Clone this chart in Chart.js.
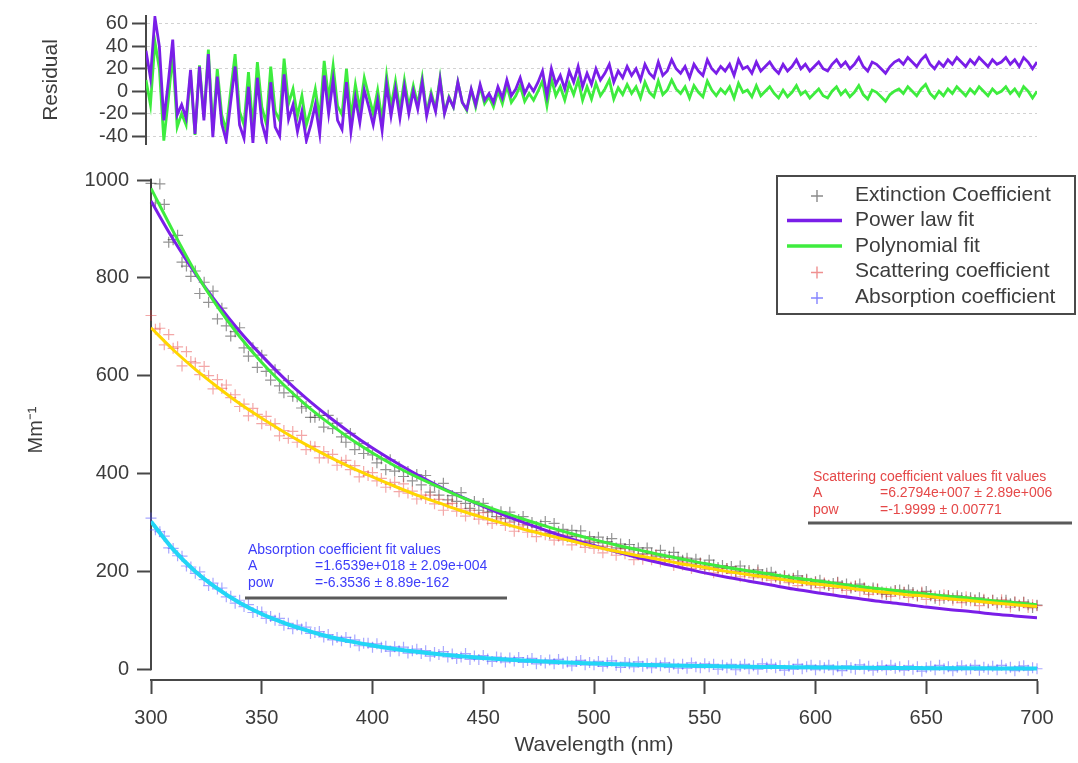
<!DOCTYPE html>
<html>
<head>
<meta charset="utf-8">
<script src="https://cdn.jsdelivr.net/npm/chart.js@4.4.1/dist/chart.umd.min.js"></script>
<style>
html,body{margin:0;padding:0;background:#ffffff;}
#resid{position:absolute;left:0;top:0;}
#main{position:absolute;left:0;top:160px;}
</style>
</head>
<body>
<canvas id="resid" width="1078" height="160"></canvas>
<canvas id="main" width="1078" height="603"></canvas>
<script>
// ---------------- DATA ----------------
const wavelengths = [300,302,304,306,308,310,312,314,316,318,320,322,324,326,328,330,332,334,336,338,
340,342,344,346,348,350,352,354,356,358,360,362,364,366,368,370,372,374,376,378,
380,382,384,386,388,390,392,394,396,398,400,402,404,406,408,410,412,414,416,418,
420,422,424,426,428,430,432,434,436,438,440,442,444,446,448,450,452,454,456,458,
460,462,464,466,468,470,472,474,476,478,480,482,484,486,488,490,492,494,496,498,
500,502,504,506,508,510,512,514,516,518,520,522,524,526,528,530,532,534,536,538,
540,542,544,546,548,550,552,554,556,558,560,562,564,566,568,570,572,574,576,578,
580,582,584,586,588,590,592,594,596,598,600,602,604,606,608,610,612,614,616,618,
620,622,624,626,628,630,632,634,636,638,640,642,644,646,648,650,652,654,656,658,
660,662,664,666,668,670,672,674,676,678,680,682,684,686,688,690,692,694,696,698,700];

const extinctionCoeff = [993,953,992,950,873,878,887,832,824,803,
814,768,791,750,773,716,738,702,681,690,
698,657,640,657,617,642,609,591,612,579,
565,590,558,557,534,537,515,515,519,495,
519,492,503,475,464,482,449,461,441,453,
438,422,430,408,428,405,414,394,404,385,
398,377,396,362,375,356,380,346,355,343,
361,339,329,343,325,339,321,323,312,322,
308,321,303,306,312,295,300,291,295,302,
277,298,281,286,271,284,271,283,262,271,
259,270,258,261,267,248,256,247,255,244,
248,236,248,237,231,243,229,231,239,229,
223,227,215,225,217,211,223,213,208,212,
206,210,199,211,201,202,194,203,193,196,
198,190,185,191,184,186,191,181,184,176,
179,182,174,171,175,178,171,174,166,169,
174,165,160,166,163,158,153,158,161,162,
157,162,157,151,156,159,150,145,150,145,
150,145,150,146,141,146,141,146,141,136,
141,136,137,141,134,137,130,137,132,126,
131];

const scatteringCoeff = [723,695,697,663,684,656,659,620,649,629,
626,602,619,600,573,592,574,581,555,561,
537,542,518,533,521,502,517,499,502,477,
488,472,486,464,478,449,456,455,432,445,
432,439,417,423,427,408,416,393,404,396,
402,385,390,372,378,382,363,379,360,364,
348,356,349,356,338,347,325,338,339,323,
328,313,325,317,307,320,305,298,305,309,
294,300,282,291,295,280,283,271,284,275,
279,264,272,264,274,254,264,260,249,262,
247,252,238,251,244,233,246,236,240,224,
234,225,235,224,234,219,223,224,212,220,
213,219,206,212,216,204,211,197,205,201,
206,196,201,189,194,198,187,198,187,191,
182,188,183,190,177,185,171,181,182,172,
178,167,177,172,165,177,166,161,168,171,
160,167,153,162,165,154,158,149,160,154,
158,147,154,149,158,143,152,149,141,152,
150,141,146,136,148,140,142,130,143,136,
141,132,142,136,127,138,132,137,126,132,
130];

const absorptionCoeff = [309,285,281,272,248,247,232,231,211,209,
196,199,183,171,176,164,166,148,149,135,
141,128,132,116,118,117,104,108,100,104,
90,94,83,90,82,86,73,75,77,66,
71,60,65,58,65,55,60,48,53,53,
45,52,45,47,37,46,38,45,33,38,
41,32,38,27,34,30,36,25,31,22,
25,32,20,27,20,28,21,16,25,23,
15,23,17,24,14,18,22,11,18,13,
19,11,20,12,15,7,16,18,9,14,
9,16,6,13,17,8,4,14,11,5,
15,6,11,3,12,7,13,4,10,2,
10,2,13,5,3,11,5,10,0,8,
3,10,-1,6,10,1,7,0,11,4,
10,3,7,-2,6,0,10,1,5,8,
-1,7,3,8,-1,5,-3,7,3,0,
9,1,6,-2,4,7,-1,8,2,5,
-2,7,0,5,-4,3,6,-1,8,1,
5,-3,4,7,-1,1,8,-2,4,0,
6,-1,8,1,4,-3,5,7,-2,3,
1];

const fitWavelengths = [300,310,320,330,340,350,360,370,380,390,400,410,420,430,440,450,460,470,480,490,
500,510,520,530,540,550,560,570,580,590,600,610,620,630,640,650,660,670,680,690,700];

const powerLawFit = [957,879,809,747,691,641,595,554,517,483,452,424,398,374,353,333,314,297,281,266,
253,240,228,217,207,197,188,180,172,164,157,150,144,138,133,127,122,118,113,109,105];

const polynomialFit = [983,895,812,741,680,627,581,540,504,471,442,416,393,372,352,335,319,304,290,277,
265,254,244,234,225,216,208,201,194,187,181,175,169,164,159,154,149,145,140,136,132];

const scatteringFit = [698,653,613,577,543,513,485,459,435,413,393,374,356,340,324,310,297,284,273,262,
251,241,232,224,215,208,200,193,187,180,174,169,163,158,153,149,144,140,136,132,128];

const absorptionFit = [302,245,200,165,136,113,95,80,67,57,48.5,41.5,35.6,30.7,26.5,23,20,17.4,15.2,13.4,
11.8,10.4,9.2,8.1,7.2,6.4,5.7,5.1,4.6,4.1,3.7,3.3,3.0,2.7,2.5,2.2,2.0,1.9,1.7,1.6,1.4];

const powerLawResidual = [36,12,66,40,-26,8,46,-21,-12,-24,
19,-38,22,-26,33,-41,13,-29,-44,-10,
22,-30,-42,4,-46,12,-28,-43,8,-32,
-40,15,-25,-12,-36,-18,-44,-30,-12,-38,
14,-20,10,-26,-34,8,-36,-6,-28,1,
-14,-30,-8,-35,6,-22,2,-24,4,-20,
0,-16,8,-22,-4,-18,10,-20,-6,-14,
8,-10,-16,2,-12,6,-8,-2,-10,4,
-6,10,-4,2,12,-2,6,0,8,18,
-4,20,6,14,2,18,8,22,4,16,
6,20,10,16,24,8,18,12,22,14,
20,10,24,16,12,26,14,18,28,20,
16,22,12,24,18,14,28,20,16,22,
18,24,14,28,20,22,16,26,18,22,
26,20,16,24,18,22,28,20,24,18,
22,26,20,18,24,28,22,26,20,24,
30,22,18,26,24,20,16,22,26,28,
24,30,26,22,28,32,24,20,26,22,
28,24,30,26,22,28,24,30,26,22,
28,24,26,30,24,28,22,30,26,20,
26];

const polynomialResidual = [10,-12,44,20,-44,-8,33,-32,-20,-30,
16,-39,23,-23,37,-35,20,-21,-35,0,
33,-18,-30,17,-33,26,-14,-29,22,-18,
-26,29,-11,2,-22,-4,-30,-16,2,-24,
27,-7,23,-13,-21,20,-24,6,-16,12,
-4,-20,1,-26,14,-14,9,-17,10,-14,
5,-12,12,-19,-1,-16,12,-19,-5,-14,
8,-10,-17,1,-14,4,-11,-5,-14,0,
-11,5,-10,-4,5,-9,-2,-8,0,9,
-13,11,-4,4,-8,7,-3,10,-8,4,
-7,7,-4,2,10,-7,3,-3,6,-2,
4,-6,8,-1,-5,9,-3,1,10,2,
-2,4,-6,5,-1,-5,9,1,-4,2,
-2,4,-6,7,-1,1,-5,5,-4,0,
4,-2,-6,1,-5,-1,5,-3,0,-6,
-2,2,-4,-6,0,4,-3,1,-5,-1,
5,-3,-7,1,-1,-5,-9,-3,0,2,
-2,4,0,-4,2,6,-2,-6,0,-4,
2,-2,4,0,-4,2,-2,4,0,-4,
2,-2,0,4,-2,2,-4,4,0,-6,
0];

const xTicks = [300,350,400,450,500,550,600,650,700];
const yTicks = [0,200,400,600,800,1000];
const residTicks = [-40,-20,0,20,40,60];

const legendLabels = ['Extinction Coefficient','Power law fit','Polynomial fit','Scattering coefficient','Absorption coefficient'];

const scatteringNote = ['Scattering coefficient values fit values', 'A', '=6.2794e+007 \u00b1 2.89e+006', 'pow', '=-1.9999 \u00b1 0.00771'];
const absorptionNote = ['Absorption coefficient fit values', 'A', '=1.6539e+018 \u00b1 2.09e+004', 'pow', '=-6.3536 \u00b1 8.89e-162'];

// ---------------- STYLE ----------------
const FONT = "'Liberation Sans', Arial, Helvetica, sans-serif";
const AXIS_COLOR = '#474747';
const TEXT_COLOR = '#3c3c3c';
const PURPLE = '#7a1ee8';
const GREEN = '#3eec3e';
Chart.defaults.font.family = FONT;
Chart.defaults.color = TEXT_COLOR;

function pts(xs, ys) { return xs.map((x, i) => ({ x: x, y: ys[i] })); }
const plainLabel = v => String(v);

// ---------------- RESIDUAL PANEL ----------------
new Chart(document.getElementById('resid'), {
  type: 'line',
  data: {
    datasets: [
      { label: 'Power law residual', data: pts(wavelengths, powerLawResidual),
        borderColor: PURPLE, borderWidth: 2.8, pointRadius: 0, tension: 0, order: 0 },
      { label: 'Polynomial residual', data: pts(wavelengths, polynomialResidual),
        borderColor: GREEN, borderWidth: 2.8, pointRadius: 0, tension: 0, order: 1 }
    ]
  },
  options: {
    responsive: false, animation: false, events: [],
    layout: { padding: { left: 0, right: 41, top: 15, bottom: 15 } },
    plugins: { legend: { display: false }, tooltip: { enabled: false } },
    scales: {
      x: { type: 'linear', min: 300, max: 700, display: false },
      y: {
        type: 'linear', min: -47, max: 67,
        afterBuildTicks: s => { s.ticks = residTicks.map(v => ({ value: v })); },
        afterFit: s => { s.width = 146; },
        ticks: { font: { size: 20 }, color: TEXT_COLOR, padding: 4, autoSkip: false, callback: plainLabel },
        grid: { color: '#d2d2d2', lineWidth: 1, drawTicks: true, tickLength: 14,
                tickColor: AXIS_COLOR, tickWidth: 2, tickBorderDash: [] },
        border: { display: true, color: AXIS_COLOR, width: 2, dash: [3, 3] },
        title: { display: true, text: 'Residual', font: { size: 21 }, color: TEXT_COLOR,
                 padding: { top: 39, bottom: 0 } }
      }
    }
  }
});

// ---------------- MAIN PANEL ----------------
const igorExtras = {
  id: 'igorExtras',
  beforeDatasetsDraw(chart) {
    const ctx = chart.ctx, ys = chart.scales.y, x = chart.chartArea.left;
    ctx.save();
    ctx.strokeStyle = AXIS_COLOR; ctx.lineWidth = 2;
    ctx.beginPath();
    ctx.moveTo(x, ys.getPixelForValue(yTicks[yTicks.length - 1]) - 1);
    ctx.lineTo(x, ys.getPixelForValue(yTicks[0]) + 1);
    ctx.stroke();
    ctx.restore();
  },
  afterDraw(chart) {
    const ctx = chart.ctx;
    ctx.save();
    // legend box
    ctx.fillStyle = '#ffffff';
    ctx.fillRect(777, 16, 298, 138);
    ctx.strokeStyle = '#4a4a4a'; ctx.lineWidth = 2;
    ctx.strokeRect(777, 16, 298, 138);
    ctx.font = '21px ' + FONT;
    ctx.textBaseline = 'middle'; ctx.textAlign = 'left';
    legendLabels.forEach((name, i) => {
      const ds = chart.data.datasets.find(d => d.label === name);
      const y = 35 + i * 25.5;
      if (ds.showLine === false) {
        ctx.strokeStyle = ds.legendColor; ctx.lineWidth = 1.4;
        ctx.beginPath();
        ctx.moveTo(811, y + 1); ctx.lineTo(823, y + 1);
        ctx.moveTo(817, y - 5); ctx.lineTo(817, y + 7);
        ctx.stroke();
      } else {
        ctx.strokeStyle = ds.borderColor; ctx.lineWidth = 3.5;
        ctx.beginPath(); ctx.moveTo(787, y); ctx.lineTo(842, y); ctx.stroke();
      }
      ctx.fillStyle = TEXT_COLOR;
      ctx.fillText(name, 855, y);
    });
    // fit value notes
    const drawNote = (lines, color, x0, x1, y0, ruleX0, ruleX1, ruleY) => {
      ctx.font = '14px ' + FONT; ctx.fillStyle = color; ctx.textBaseline = 'middle';
      ctx.fillText(lines[0], x0, y0);
      ctx.fillText(lines[1], x0, y0 + 16.5);
      ctx.fillText(lines[2], x1, y0 + 16.5);
      ctx.fillText(lines[3], x0, y0 + 33);
      ctx.fillText(lines[4], x1, y0 + 33);
      ctx.strokeStyle = '#5a5a5a'; ctx.lineWidth = 3;
      ctx.beginPath(); ctx.moveTo(ruleX0, ruleY); ctx.lineTo(ruleX1, ruleY); ctx.stroke();
    };
    drawNote(scatteringNote, '#e54848', 813, 880, 317, 808, 1072, 363);
    drawNote(absorptionNote, '#3d3dfa', 248, 315, 390, 245, 507, 438);
    ctx.restore();
  }
};

const crossStyle = (color, legendColor) => ({
  showLine: false, pointStyle: 'cross', pointRadius: 5.5, pointBorderWidth: 1.2,
  pointBorderColor: color, borderColor: color, backgroundColor: color, clip: false,
  legendColor: legendColor
});

new Chart(document.getElementById('main'), {
  type: 'line',
  data: {
    datasets: [
      { label: 'Absorption fit', data: pts(fitWavelengths, absorptionFit), borderColor: '#22d6f6',
        borderWidth: 4, pointRadius: 0, cubicInterpolationMode: 'monotone', order: 0 },
      { label: 'Scattering fit', data: pts(fitWavelengths, scatteringFit), borderColor: '#ffd600',
        borderWidth: 3, pointRadius: 0, cubicInterpolationMode: 'monotone', order: 1 },
      { label: 'Polynomial fit', data: pts(fitWavelengths, polynomialFit), borderColor: GREEN,
        borderWidth: 3, pointRadius: 0, cubicInterpolationMode: 'monotone', order: 2 },
      { label: 'Power law fit', data: pts(fitWavelengths, powerLawFit), borderColor: PURPLE,
        borderWidth: 3, pointRadius: 0, cubicInterpolationMode: 'monotone', order: 3 },
      Object.assign({ label: 'Absorption coefficient', data: pts(wavelengths, absorptionCoeff), order: 4 },
        crossStyle('rgba(80,80,255,0.5)', 'rgba(80,80,255,0.7)')),
      Object.assign({ label: 'Scattering coefficient', data: pts(wavelengths, scatteringCoeff), order: 5 },
        crossStyle('rgba(228,60,60,0.45)', 'rgba(228,70,70,0.6)')),
      Object.assign({ label: 'Extinction Coefficient', data: pts(wavelengths, extinctionCoeff), order: 6 },
        crossStyle('rgba(40,40,40,0.5)', 'rgba(60,60,60,0.6)'))
    ]
  },
  options: {
    responsive: false, animation: false, events: [],
    layout: { padding: { left: 0, right: 41, top: 19, bottom: 0 } },
    plugins: { legend: { display: false }, tooltip: { enabled: false } },
    scales: {
      x: {
        type: 'linear', min: 300, max: 700,
        afterBuildTicks: s => { s.ticks = xTicks.map(v => ({ value: v })); },
        afterFit: s => { s.height = 83; },
        ticks: { font: { size: 20 }, color: TEXT_COLOR, padding: 12, maxRotation: 0, autoSkip: false, callback: plainLabel },
        grid: { drawOnChartArea: false, drawTicks: true, tickLength: 14, tickColor: AXIS_COLOR, tickWidth: 2 },
        border: { display: true, color: AXIS_COLOR, width: 2 },
        title: { display: true, text: 'Wavelength (nm)', font: { size: 21 }, color: TEXT_COLOR,
                 padding: { top: 0, bottom: 5 } }
      },
      y: {
        type: 'linear', min: -22, max: 1000,
        afterBuildTicks: s => { s.ticks = yTicks.map(v => ({ value: v })); },
        afterFit: s => { s.width = 151; },
        ticks: { font: { size: 20 }, color: TEXT_COLOR, padding: 8, autoSkip: false, callback: plainLabel },
        grid: { drawOnChartArea: false, drawTicks: true, tickLength: 14, tickColor: AXIS_COLOR, tickWidth: 2 },
        border: { display: false },
        title: { display: true, text: 'Mm\u207B\u00B9', font: { size: 20 }, color: TEXT_COLOR,
                 padding: { top: 24, bottom: 0 } }
      }
    }
  },
  plugins: [igorExtras]
});
</script>
</body>
</html>
